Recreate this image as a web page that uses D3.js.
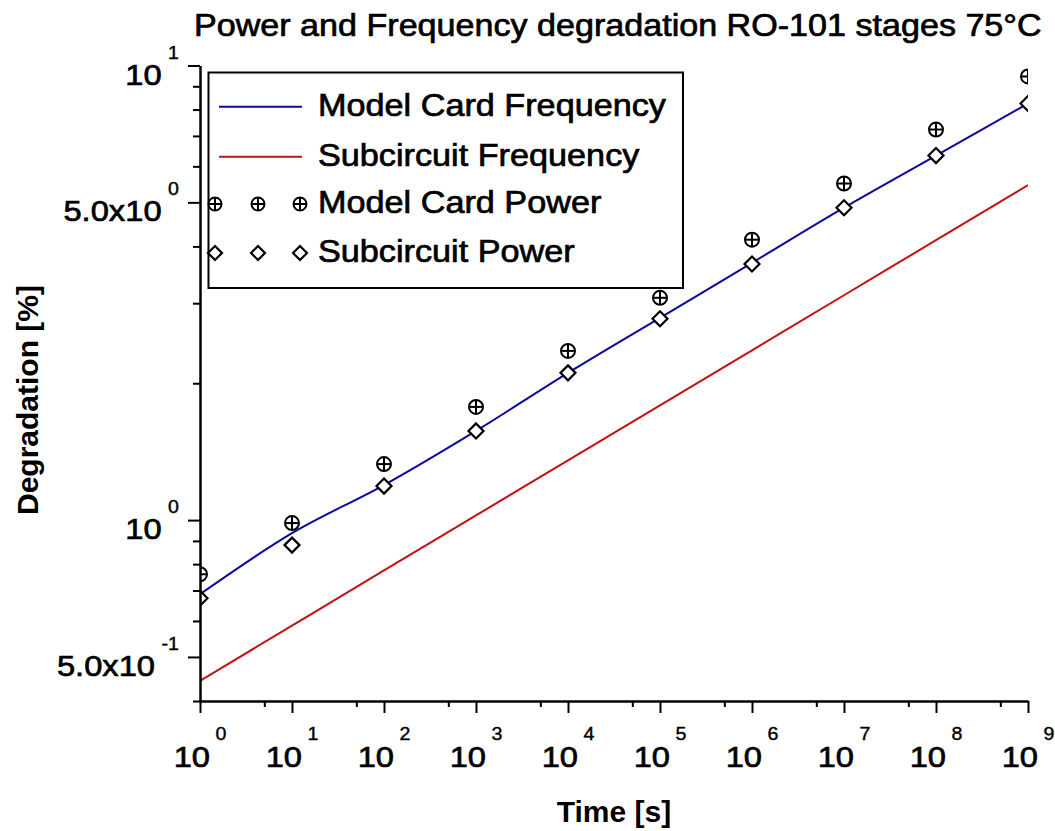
<!DOCTYPE html>
<html>
<head>
<meta charset="utf-8">
<script src="https://cdn.jsdelivr.net/npm/d3@7"></script>
<style>
  html, body { margin: 0; padding: 0; background: #fff; }
  svg { display: block; font-family: "Liberation Sans", Arial, sans-serif; }
</style>
</head>
<body>
<svg id="chart" width="1055" height="831"></svg>
<script>
// Stress time in seconds (one point per decade)
const times = [1e0, 1e1, 1e2, 1e3, 1e4, 1e5, 1e6, 1e7, 1e8, 1e9];

// Degradation in percent
const modelCardFrequency = [0.687, 0.936, 1.194, 1.571, 2.108, 2.786, 3.68, 4.866, 6.336, 8.25];
const subcircuitFrequency = [0.443, 0.586, 0.775, 1.024, 1.353, 1.788, 2.363, 3.123, 4.128, 5.455];
const modelCardPower = [0.760, 0.985, 1.328, 1.774, 2.356, 3.083, 4.138, 5.50, 7.23, 9.46];
const subcircuitPower = [0.673, 0.881, 1.188, 1.571, 2.108, 2.772, 3.66, 4.866, 6.336, 8.25];

// Axis ticks
const xMajorTicks = [1e0, 1e1, 1e2, 1e3, 1e4, 1e5, 1e6, 1e7, 1e8, 1e9];
const xMinorTicks = [5e0, 5e1, 5e2, 5e3, 5e4, 5e5, 5e6, 5e7, 5e8];
const yMajorTicks = [0.5, 1, 5, 10];
const yMinorTicks = [0.4, 0.6, 0.7, 0.8, 0.9, 2, 3, 4, 6, 7, 8, 9];
const yTickLabels = [
  { value: 10,  base: "10",     exp: "1" },
  { value: 5,   base: "5.0x10", exp: "0" },
  { value: 1,   base: "10",     exp: "0" },
  { value: 0.5, base: "5.0x10", exp: "-1" }
];

const legendItems = [
  { label: "Model Card Frequency", kind: "line", color: "#0a0aa0" },
  { label: "Subcircuit Frequency", kind: "line", color: "#c41010" },
  { label: "Model Card Power",     kind: "cross" },
  { label: "Subcircuit Power",     kind: "diamond" }
];

// The lettering in this figure is a little wider than Arial
const STRETCH = 1.09;

const svg = d3.select("#chart");

const x = d3.scaleLog().domain([1, 1e9]).range([200, 1028]);
const y = d3.scaleLog().domain([0.4, 10]).range([701, 65.5]);

// Text placed inside a horizontally stretched group
function label(parent, px, py, anchor, size, weight) {
  return parent.append("g")
    .attr("transform", `translate(${px},${py}) scale(${STRETCH},1)`)
    .append("text")
    .attr("text-anchor", anchor)
    .attr("font-size", size)
    .attr("font-weight", weight)
    .attr("stroke", "#000")
    .attr("stroke-width", weight === "bold" ? 0 : 0.7);
}

// Title
label(svg, 194, 36, "start", 31.3, "normal")
  .text("Power and Frequency degradation RO-101 stages 75\u00B0C");

// Clip region for marks
svg.append("defs").append("clipPath").attr("id", "plot-clip")
  .append("rect").attr("x", 200).attr("y", 0).attr("width", 828).attr("height", 701);

const plot = svg.append("g").attr("clip-path", "url(#plot-clip)");

const line = d3.line()
  .x((d, i) => x(times[i]))
  .y(d => y(d))
  .curve(d3.curveMonotoneX);

plot.append("path")
  .datum(subcircuitFrequency)
  .attr("fill", "none")
  .attr("stroke", legendItems[1].color)
  .attr("stroke-width", 2)
  .attr("d", line);

plot.append("path")
  .datum(modelCardFrequency)
  .attr("fill", "none")
  .attr("stroke", legendItems[0].color)
  .attr("stroke-width", 2)
  .attr("d", line);

// Marker drawing helpers
function drawCross(g, cx, cy, r) {
  const m = g.append("g").attr("transform", `translate(${cx},${cy})`);
  m.append("circle").attr("r", r).attr("fill", "#fff").attr("stroke", "#000").attr("stroke-width", 2);
  m.append("line").attr("x1", -r).attr("x2", r).attr("stroke", "#000").attr("stroke-width", 2);
  m.append("line").attr("y1", -r).attr("y2", r).attr("stroke", "#000").attr("stroke-width", 2);
}
function drawDiamond(g, cx, cy, r) {
  g.append("path")
    .attr("transform", `translate(${cx},${cy})`)
    .attr("d", `M0,${-r}L${r},0L0,${r}L${-r},0Z`)
    .attr("fill", "#fff").attr("stroke", "#000").attr("stroke-width", 2.2);
}

const diamonds = plot.append("g");
subcircuitPower.forEach((v, i) => drawDiamond(diamonds, x(times[i]), y(v), 7.5));
const crosses = plot.append("g");
modelCardPower.forEach((v, i) => drawCross(crosses, x(times[i]), y(v), 7));

// Axes
const axisStyle = g => {
  g.select(".domain").attr("stroke", "#000").attr("stroke-width", 2.5);
  g.selectAll(".tick line").attr("stroke", "#000").attr("stroke-width", 2);
};

svg.append("g")
  .attr("transform", "translate(0,701)")
  .call(d3.axisBottom(x).tickValues(xMajorTicks).tickSize(12).tickSizeOuter(0).tickFormat(""))
  .call(axisStyle);
svg.append("g")
  .attr("transform", "translate(0,701)")
  .call(d3.axisBottom(x).tickValues(xMinorTicks).tickSize(6).tickSizeOuter(0).tickFormat(""))
  .call(g => g.select(".domain").remove())
  .call(axisStyle);

svg.append("g")
  .attr("transform", "translate(200,0)")
  .call(d3.axisLeft(y).tickValues(yMajorTicks).tickSize(12).tickSizeOuter(0).tickFormat(""))
  .call(axisStyle);
svg.append("g")
  .attr("transform", "translate(200,0)")
  .call(d3.axisLeft(y).tickValues(yMinorTicks).tickSize(7).tickSizeOuter(0).tickFormat(""))
  .call(g => g.select(".domain").remove())
  .call(axisStyle);

// X tick labels: 10^k
const xl = svg.append("g");
xMajorTicks.forEach(t => {
  const txt = label(xl, x(t), 767, "middle", 30, "normal");
  txt.append("tspan").text("10");
  txt.append("tspan").attr("font-size", 18).attr("stroke-width", 0.4)
    .attr("dx", 5).attr("dy", -27).text(String(Math.round(Math.log10(t))));
});

// Y tick labels
const yl = svg.append("g");
yTickLabels.forEach(d => {
  const txt = label(yl, 179, y(d.value) + 19, "end", 30, "normal");
  txt.append("tspan").text(d.base);
  txt.append("tspan").attr("font-size", 18).attr("stroke-width", 0.4)
    .attr("dx", 6).attr("dy", -26).text(d.exp);
});

// Axis titles
svg.append("text")
  .attr("x", 614).attr("y", 822)
  .attr("text-anchor", "middle")
  .attr("font-size", 30).attr("font-weight", "bold")
  .text("Time [s]");

svg.append("text")
  .attr("transform", "translate(38,400) rotate(-90)")
  .attr("text-anchor", "middle")
  .attr("font-size", 30).attr("font-weight", "bold")
  .text("Degradation [%]");

// Legend
const legend = svg.append("g");
legend.append("rect")
  .attr("x", 208.5).attr("y", 72.5).attr("width", 474.5).attr("height", 215.5)
  .attr("fill", "#fff").attr("stroke", "#000").attr("stroke-width", 2);

const rowY = [106.7, 156.7, 204, 253];
legendItems.forEach((item, i) => {
  const cy = rowY[i];
  if (item.kind === "line") {
    legend.append("line")
      .attr("x1", 219).attr("x2", 302).attr("y1", cy).attr("y2", cy)
      .attr("stroke", item.color).attr("stroke-width", 2);
  } else {
    [215, 258, 300].forEach(cx => {
      if (item.kind === "cross") drawCross(legend, cx, cy, 6.5);
      else drawDiamond(legend, cx, cy, 7);
    });
  }
  label(legend, 318, cy + 9, "start", 31.4, "normal").text(item.label);
});
</script>
</body>
</html>
